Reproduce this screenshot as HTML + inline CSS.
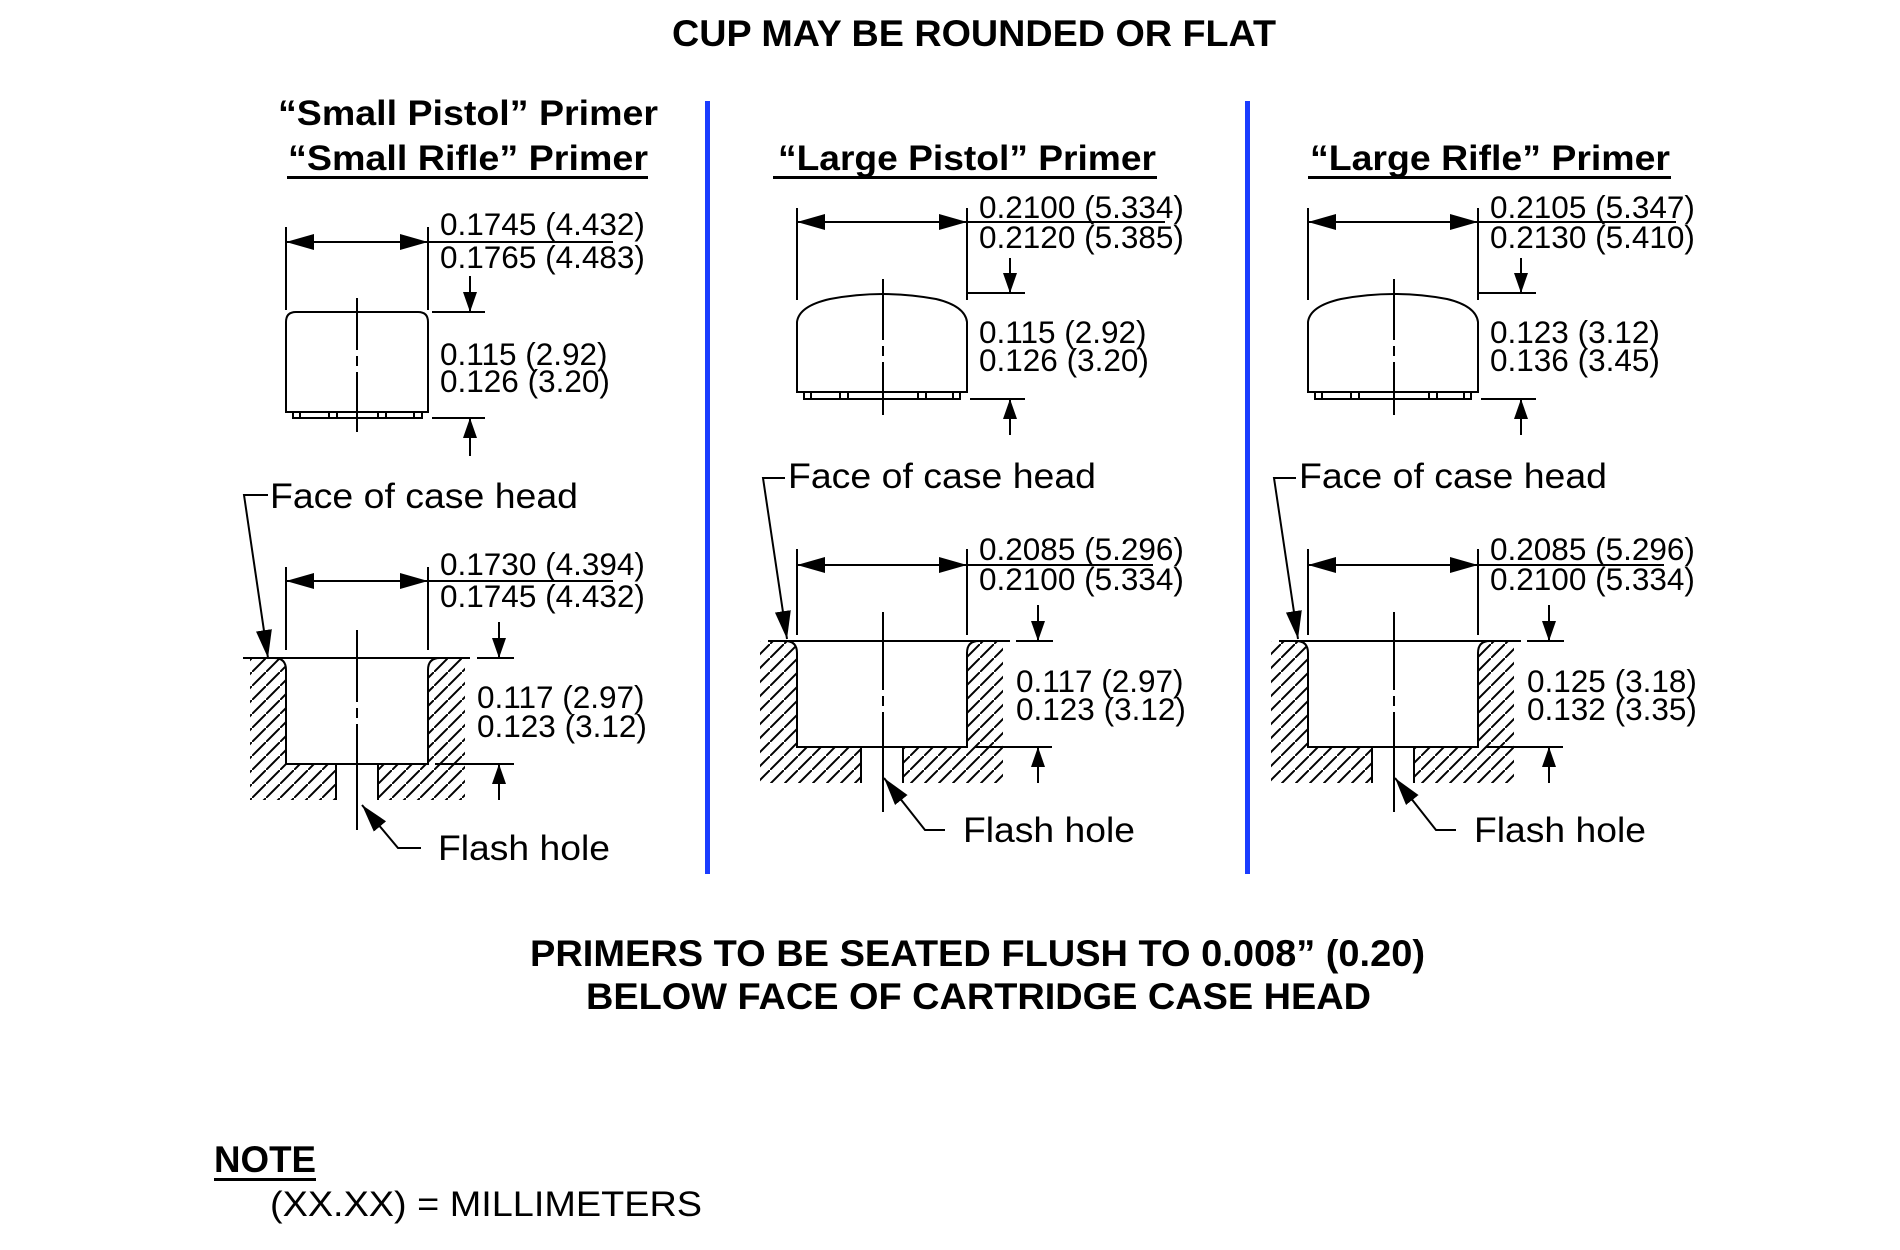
<!DOCTYPE html>
<html><head><meta charset="utf-8"><style>
html,body{margin:0;padding:0;background:#fff;width:1900px;height:1250px;overflow:hidden}
svg{display:block}
text{font-family:"Liberation Sans",Arial,sans-serif;fill:#000}
.d{font-size:31.5px}
.lb{font-size:35px}
.h{font-size:35px;font-weight:bold}
.B{font-size:37px;font-weight:bold}
</style></head><body>
<svg width="1900" height="1250" viewBox="0 0 1900 1250" xmlns="http://www.w3.org/2000/svg">
<defs>
<marker id="ab" viewBox="0 0 28 16" refX="28" refY="8" markerWidth="28" markerHeight="16" markerUnits="userSpaceOnUse" orient="auto-start-reverse"><path d="M0,0 L28,8 L0,16 z"/></marker>
<marker id="av" viewBox="0 0 20 14" refX="20" refY="7" markerWidth="20" markerHeight="14" markerUnits="userSpaceOnUse" orient="auto"><path d="M0,0 L20,7 L0,14 z"/></marker>
<pattern id="hat" patternUnits="userSpaceOnUse" width="14" height="14"><path d="M-2,16 L16,-2" stroke="#000" stroke-width="2"/></pattern>
</defs>

<text class="B" x="672" y="46" textLength="604" lengthAdjust="spacingAndGlyphs">CUP MAY BE ROUNDED OR FLAT</text>
<text class="B" x="530" y="966" textLength="895" lengthAdjust="spacingAndGlyphs">PRIMERS TO BE SEATED FLUSH TO 0.008” (0.20)</text>
<text class="B" x="586" y="1009" textLength="785" lengthAdjust="spacingAndGlyphs">BELOW FACE OF CARTRIDGE CASE HEAD</text>
<text class="B" x="214" y="1172" textLength="102" lengthAdjust="spacingAndGlyphs">NOTE</text>
<rect x="214" y="1178" width="102" height="3"/>
<text x="270" y="1216" style="font-size:35px" textLength="432" lengthAdjust="spacingAndGlyphs">(XX.XX) = MILLIMETERS</text>

<rect x="705" y="101" width="5" height="773" fill="#1a3cff"/>
<rect x="1245" y="101" width="5" height="773" fill="#1a3cff"/>

<g stroke="#000" stroke-width="2" fill="none">
<line x1="286" y1="227" x2="286" y2="310"/>
<line x1="428" y1="227" x2="428" y2="310"/>
<line x1="286" y1="242" x2="428" y2="242" marker-start="url(#ab)" marker-end="url(#ab)"/>
<line x1="428" y1="242" x2="613" y2="242"/>
<path d="M286,412 V322 Q286,312 296,312 H418 Q428,312 428,322 V412 Z"/>
<path d="M293,412 V418 H422 V412 M300,412 V418 M329,412 V418 M337,412 V418 M378,412 V418 M386,412 V418 M414,412 V418"/>
<path d="M357,298 V350 M357,356 V366 M357,372 V432"/>
<line x1="432" y1="312" x2="485" y2="312"/>
<line x1="432" y1="418" x2="485" y2="418"/>
<line x1="470" y1="276" x2="470" y2="312" marker-end="url(#av)"/>
<line x1="470" y1="456" x2="470" y2="418" marker-end="url(#av)"/>
<path d="M250,658 H274 Q286,658 286,670 V764 H336 V800 H250 Z" fill="url(#hat)" stroke="none"/>
<path d="M465,658 H440 Q428,658 428,670 V764 H378 V800 H465 Z" fill="url(#hat)" stroke="none"/>
<line x1="243" y1="658" x2="470" y2="658"/>
<path d="M274,658 Q286,658 286,670 V764 H428 V670 Q428,658 440,658"/>
<path d="M336,764 V800 M378,764 V800"/>
<line x1="286" y1="567" x2="286" y2="650"/>
<line x1="428" y1="567" x2="428" y2="650"/>
<line x1="286" y1="581" x2="428" y2="581" marker-start="url(#ab)" marker-end="url(#ab)"/>
<line x1="428" y1="581" x2="613" y2="581"/>
<path d="M357,630 V702 M357,708 V718 M357,724 V830"/>
<line x1="477" y1="658" x2="514" y2="658"/>
<line x1="435" y1="764" x2="514" y2="764"/>
<line x1="499" y1="622" x2="499" y2="658" marker-end="url(#av)"/>
<line x1="499" y1="800" x2="499" y2="764" marker-end="url(#av)"/>
<path d="M268,495 H244 L268,658" marker-end="url(#ab)"/>
<path d="M421,848 H398 L362,805" marker-end="url(#ab)"/>

<g id="geo">
<line x1="797" y1="208" x2="797" y2="300"/>
<line x1="967" y1="208" x2="967" y2="300"/>
<line x1="797" y1="222" x2="967" y2="222" marker-start="url(#ab)" marker-end="url(#ab)"/>
<line x1="967" y1="222" x2="1165" y2="222"/>
<path d="M797,392 V322 Q799,306 830,299 Q883,289 936,299 Q965,306 967,322 V392 Z"/>
<path d="M804,392 V399 H960 V392 M811,392 V399 M840,392 V399 M848,392 V399 M918,392 V399 M926,392 V399 M953,392 V399"/>
<path d="M883,279 V340 M883,346 V356 M883,362 V415"/>
<line x1="967" y1="293" x2="1025" y2="293"/>
<line x1="970" y1="399" x2="1025" y2="399"/>
<line x1="1010" y1="258" x2="1010" y2="293" marker-end="url(#av)"/>
<line x1="1010" y1="435" x2="1010" y2="399" marker-end="url(#av)"/>
<path d="M760,641 H785 Q797,641 797,653 V747 H861 V783 H760 Z" fill="url(#hat)" stroke="none"/>
<path d="M1003,641 H979 Q967,641 967,653 V747 H903 V783 H1003 Z" fill="url(#hat)" stroke="none"/>
<line x1="768" y1="641" x2="1010" y2="641"/>
<path d="M785,641 Q797,641 797,653 V747 H967 V653 Q967,641 979,641"/>
<path d="M861,747 V783 M903,747 V783"/>
<line x1="797" y1="549" x2="797" y2="635"/>
<line x1="967" y1="549" x2="967" y2="635"/>
<line x1="797" y1="565" x2="967" y2="565" marker-start="url(#ab)" marker-end="url(#ab)"/>
<line x1="967" y1="565" x2="1153" y2="565"/>
<path d="M883,612 V690 M883,696 V706 M883,712 V812"/>
<line x1="1016" y1="641" x2="1053" y2="641"/>
<line x1="975" y1="747" x2="1052" y2="747"/>
<line x1="1038" y1="605" x2="1038" y2="641" marker-end="url(#av)"/>
<line x1="1038" y1="783" x2="1038" y2="747" marker-end="url(#av)"/>
<path d="M785,478 H763 L787,639" marker-end="url(#ab)"/>
<path d="M945,830 H925 L884,778" marker-end="url(#ab)"/>
</g>
<use href="#geo" x="511" y="0"/>
</g>

<text class="h" x="278" y="125" textLength="380" lengthAdjust="spacingAndGlyphs">“Small Pistol” Primer</text>
<text class="h" x="288" y="170" textLength="360" lengthAdjust="spacingAndGlyphs">“Small Rifle” Primer</text>
<rect x="287" y="176" width="361" height="3"/>
<text class="d" x="440" y="235">0.1745 (4.432)</text>
<text class="d" x="440" y="268">0.1765 (4.483)</text>
<text class="d" x="440" y="365">0.115 (2.92)</text>
<text class="d" x="440" y="392">0.126 (3.20)</text>
<text class="lb" x="270" y="508" textLength="308" lengthAdjust="spacingAndGlyphs">Face of case head</text>
<text class="d" x="440" y="575">0.1730 (4.394)</text>
<text class="d" x="440" y="607">0.1745 (4.432)</text>
<text class="d" x="477" y="708">0.117 (2.97)</text>
<text class="d" x="477" y="737">0.123 (3.12)</text>
<text class="lb" x="438" y="860" textLength="172" lengthAdjust="spacingAndGlyphs">Flash hole</text>

<text class="h" x="778" y="170" textLength="378" lengthAdjust="spacingAndGlyphs">“Large Pistol” Primer</text>
<rect x="773" y="176" width="384" height="3"/>
<text class="d" x="979" y="218">0.2100 (5.334)</text>
<text class="d" x="979" y="248">0.2120 (5.385)</text>
<text class="d" x="979" y="343">0.115 (2.92)</text>
<text class="d" x="979" y="371">0.126 (3.20)</text>
<text class="lb" x="788" y="488" textLength="308" lengthAdjust="spacingAndGlyphs">Face of case head</text>
<text class="d" x="979" y="560">0.2085 (5.296)</text>
<text class="d" x="979" y="590">0.2100 (5.334)</text>
<text class="d" x="1016" y="692">0.117 (2.97)</text>
<text class="d" x="1016" y="720">0.123 (3.12)</text>
<text class="lb" x="963" y="842" textLength="172" lengthAdjust="spacingAndGlyphs">Flash hole</text>

<text class="h" x="1310" y="170" textLength="360" lengthAdjust="spacingAndGlyphs">“Large Rifle” Primer</text>
<rect x="1308" y="176" width="363" height="3"/>
<text class="d" x="1490" y="218">0.2105 (5.347)</text>
<text class="d" x="1490" y="248">0.2130 (5.410)</text>
<text class="d" x="1490" y="343">0.123 (3.12)</text>
<text class="d" x="1490" y="371">0.136 (3.45)</text>
<text class="lb" x="1299" y="488" textLength="308" lengthAdjust="spacingAndGlyphs">Face of case head</text>
<text class="d" x="1490" y="560">0.2085 (5.296)</text>
<text class="d" x="1490" y="590">0.2100 (5.334)</text>
<text class="d" x="1527" y="692">0.125 (3.18)</text>
<text class="d" x="1527" y="720">0.132 (3.35)</text>
<text class="lb" x="1474" y="842" textLength="172" lengthAdjust="spacingAndGlyphs">Flash hole</text>
</svg>
</body></html>
